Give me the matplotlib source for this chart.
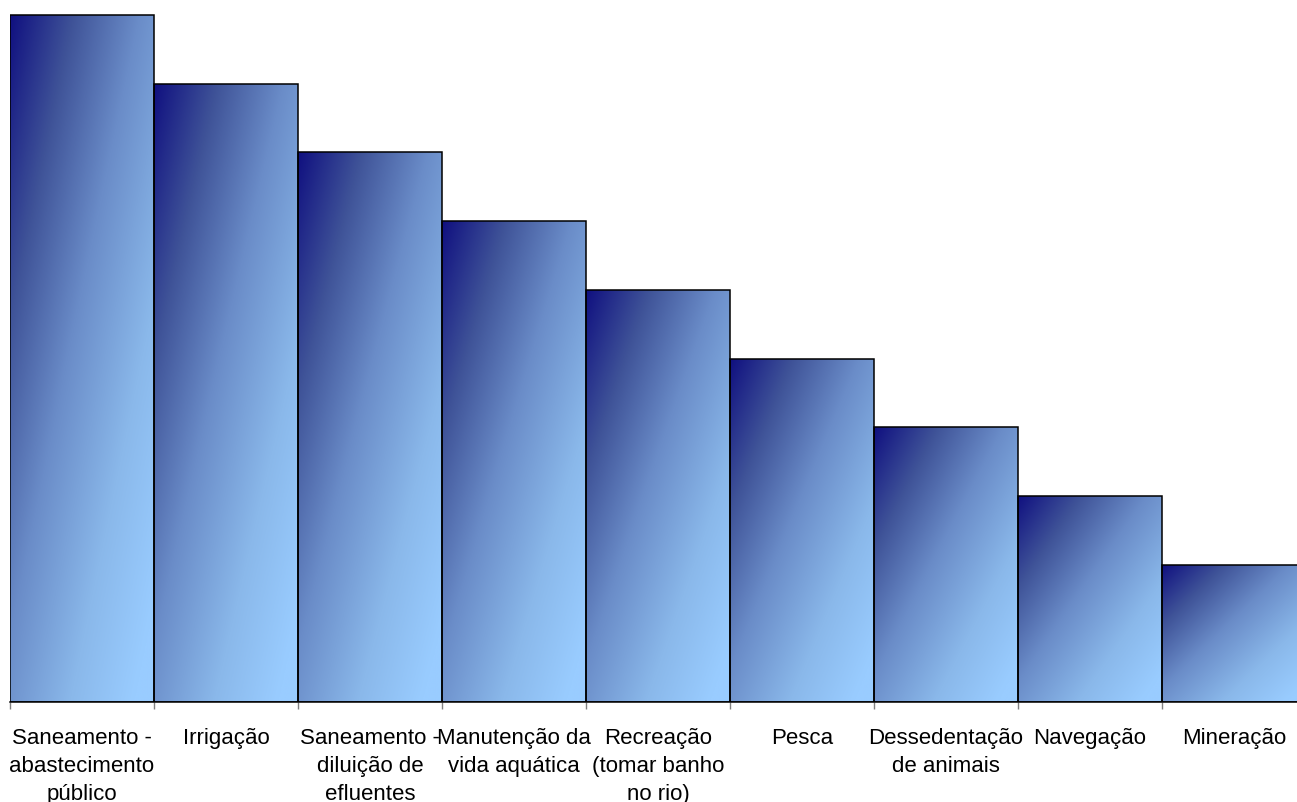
import numpy as np
import matplotlib
matplotlib.use('Agg')
import matplotlib.pyplot as plt
from matplotlib.colors import LinearSegmentedColormap

plt.rcParams['font.family'] = ['Liberation Sans', 'DejaVu Sans']

categories = [
    'Saneamento -\nabastecimento\npúblico',
    'Irrigação',
    'Saneamento -\ndiluição de\nefluentes',
    'Manutenção da\nvida aquática',
    'Recreação\n(tomar banho\nno rio)',
    'Pesca',
    'Dessedentação\nde animais',
    'Navegação',
    'Mineração',
]
values = [10, 9, 8, 7, 6, 5, 4, 3, 2]

W, H = 1297, 803
fig = plt.figure(figsize=(W / 100, H / 100), dpi=100)

# axes runs past the right edge of the figure, like the cropped original
ymax = 10.3
unit_px = 687 / 10
ax = fig.add_axes([10 / W, 100 / H, 1296 / W, unit_px * ymax / H])

# gradient stops
stops = [
    (0.00, (16, 16, 128)),
    (0.22, (63, 83, 152)),
    (0.45, (106, 140, 200)),
    (0.71, (138, 184, 234)),
    (0.93, (153, 204, 255)),
    (1.00, (153, 204, 255)),
]
cmap = LinearSegmentedColormap.from_list(
    'ocean', [(p, tuple(c / 255 for c in rgb)) for p, rgb in stops])

x = np.arange(len(values))
bars = ax.bar(x, values, width=1.0, facecolor='none', edgecolor='black',
              linewidth=1.1, zorder=3)

# diagonal gradient: dark at top-left, light at bottom-right
u = np.linspace(0, 1, 200)
v = np.linspace(0, 1, 400)
grad = (u[None, :] + v[:, None]) / 2

for b in bars:
    x0, y0 = b.get_x(), b.get_y()
    w, h = b.get_width(), b.get_height()
    im = ax.imshow(grad, cmap=cmap, extent=(x0, x0 + w, y0, y0 + h),
                   origin='upper', aspect='auto', zorder=2,
                   interpolation='bilinear', vmin=0, vmax=1)
    im.set_clip_path(b)

ax.set_xlim(-0.5, len(values) - 0.5)
ax.set_ylim(0, ymax)

for s in ['left', 'top', 'right']:
    ax.spines[s].set_visible(False)
ax.spines['bottom'].set_linewidth(1.1)
ax.spines['bottom'].set_zorder(4)

ax.set_yticks([])
ax.set_xticks(x)
ax.set_xticklabels(categories, fontsize=16, linespacing=1.45)
ax.tick_params(axis='x', which='major', length=0, pad=18)
ax.set_xticks(np.arange(len(values) + 1) - 0.5, minor=True)
ax.tick_params(axis='x', which='minor', length=5, width=1, color='#808080')

fig.savefig('out.png', dpi=100)
